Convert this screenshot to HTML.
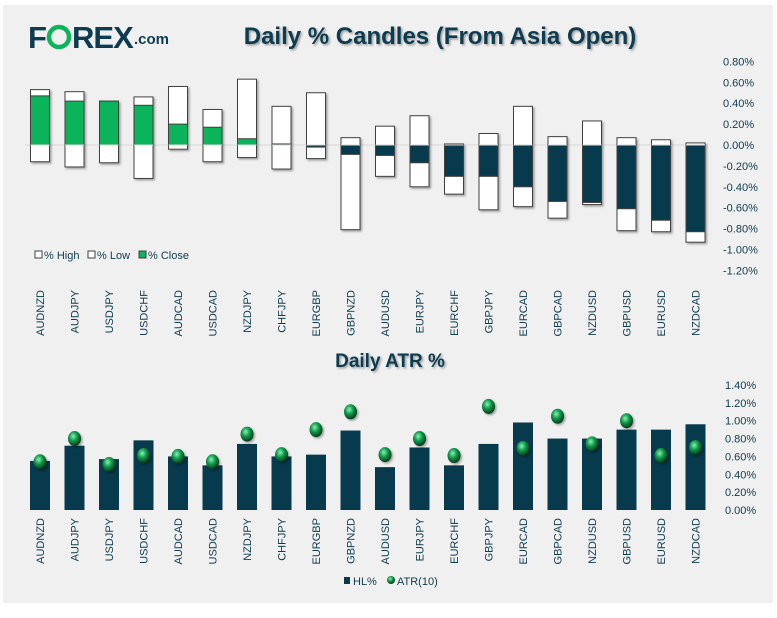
<!DOCTYPE html>
<html><head><meta charset="utf-8"><style>
body{margin:0;background:#fff;width:777px;height:613px;overflow:hidden;font-family:"Liberation Sans",sans-serif}
</style></head><body>
<svg width="777" height="613" xmlns="http://www.w3.org/2000/svg" id="svg" style="font-family:'Liberation Sans',sans-serif">
<defs>
<filter id="sh" x="-20%" y="-20%" width="150%" height="150%"><feDropShadow dx="1.5" dy="1.5" stdDeviation="1" flood-color="#000" flood-opacity="0.35"/></filter>
<radialGradient id="dotg" cx="40%" cy="35%" r="65%"><stop offset="0" stop-color="#8ff0b0"/><stop offset="0.45" stop-color="#12a050"/><stop offset="1" stop-color="#043818"/></radialGradient>
</defs>
<rect x="3" y="5" width="770" height="598" fill="#f0f0f0"/>
<g>
<text x="28" y="48" font-size="31" font-weight="bold" fill="#0d3b4f" letter-spacing="-1">F</text>
<circle cx="59" cy="37" r="10" fill="none" stroke="#0bb35a" stroke-width="4.5"/>
<text x="72" y="48" font-size="31" font-weight="bold" fill="#0d3b4f" letter-spacing="-1">REX</text>
<text x="134" y="44" font-size="15" font-weight="bold" fill="#0d3b4f">.com</text>
</g>
<text x="440" y="44" text-anchor="middle" font-size="24" font-weight="bold" fill="#0d3b4f" filter="url(#sh)">Daily % Candles (From Asia Open)</text>
<text x="390" y="367" text-anchor="middle" font-size="19" font-weight="bold" fill="#0d3b4f" filter="url(#sh)">Daily ATR %</text>
<g id="gtop"></g><g id="gbot"></g>
<g font-size="11" fill="#0d3b4f">
<rect x="35" y="251" width="7" height="7" fill="#fff" stroke="#404040"/><text x="44" y="259">% High</text>
<rect x="88" y="251" width="7" height="7" fill="#fff" stroke="#404040"/><text x="97" y="259">% Low</text>
<rect x="139" y="251" width="7" height="7" fill="#0bb35a" stroke="#404040"/><text x="148" y="259">% Close</text>
</g>
<g font-size="11" fill="#0d3b4f">
<rect x="344" y="577" width="6" height="7" fill="#073a4d"/><text x="353" y="585">HL%</text>
<circle cx="391" cy="580" r="4" fill="url(#dotg)"/><text x="397" y="585">ATR(10)</text>
</g>
</svg>
<script>
const categories=["AUDNZD","AUDJPY","USDJPY","USDCHF","AUDCAD","USDCAD","NZDJPY","CHFJPY","EURGBP","GBPNZD","AUDUSD","EURJPY","EURCHF","GBPJPY","EURCAD","GBPCAD","NZDUSD","GBPUSD","EURUSD","NZDCAD"];
const highVals=[0.53,0.51,0.42,0.46,0.56,0.34,0.63,0.37,0.50,0.07,0.18,0.28,0.01,0.11,0.37,0.08,0.23,0.07,0.05,0.02];
const lowVals=[-0.16,-0.21,-0.17,-0.32,-0.04,-0.16,-0.12,-0.23,-0.13,-0.81,-0.30,-0.40,-0.47,-0.62,-0.59,-0.70,-0.57,-0.82,-0.83,-0.93];
const closeVals=[0.47,0.42,0.42,0.38,0.20,0.17,0.06,0.01,-0.02,-0.09,-0.10,-0.17,-0.30,-0.30,-0.40,-0.54,-0.55,-0.61,-0.72,-0.83];
const topTicks=[0.8,0.6,0.4,0.2,0,-0.2,-0.4,-0.6,-0.8,-1.0,-1.2];
const hlVals=[0.55,0.72,0.57,0.78,0.60,0.50,0.74,0.60,0.62,0.89,0.48,0.70,0.50,0.74,0.98,0.80,0.80,0.90,0.90,0.96];
const atrVals=[0.54,0.80,0.51,0.61,0.60,0.54,0.85,0.62,0.90,1.10,0.62,0.80,0.61,1.16,0.69,1.05,0.74,1.00,0.61,0.70];
const botTicks=[1.4,1.2,1.0,0.8,0.6,0.4,0.2,0];
const NS="http://www.w3.org/2000/svg";
const xPos=i=>40+i*34.5;
const yTop=v=>145-v*104.5;
const yBot=v=>510-v*89.3;
function mk(tag,attrs,parent){const e=document.createElementNS(NS,tag);for(const k in attrs)e.setAttribute(k,attrs[k]);parent.appendChild(e);return e;}
const gTop=document.getElementById('gtop'),gBot=document.getElementById('gbot');
mk('line',{x1:25,x2:708,y1:yTop(0),y2:yTop(0),stroke:'#d8d8d8','stroke-width':1},gTop);
topTicks.forEach(t=>{const e=mk('text',{x:723,y:yTop(t)+4,'font-size':11,fill:'#0d3b4f'},gTop);


e.textContent=t.toFixed(2)+'%';});
categories.forEach((c,i)=>{const x=xPos(i),w=19;
const r=mk('rect',{x:x-w/2,y:yTop(highVals[i]),width:w,height:yTop(lowVals[i])-yTop(highVals[i]),fill:'#fff',stroke:'#404040','stroke-width':1,filter:'url(#sh)'},gTop);


const cv=closeVals[i];const y0=Math.min(yTop(0),yTop(cv)),h=Math.abs(yTop(cv)-yTop(0));
const cr=mk('rect',{x:x-w/2,y:y0,width:w,height:h,fill:cv>=0?'#0bb35a':'#073a4d',stroke:'#404040','stroke-width':1},gTop);


mk('line',{x1:x-w/2,x2:x+w/2,y1:yTop(0),y2:yTop(0),stroke:'#d8d8d8','stroke-width':1},gTop);
const t=mk('text',{x:0,y:0,'font-size':11,fill:'#0d3b4f','text-anchor':'end',transform:`translate(${x+4},290) rotate(-90)`},gTop);


t.textContent=c;
const b=mk('rect',{x:x-10,y:yBot(hlVals[i]),width:20,height:yBot(0)-yBot(hlVals[i]),fill:'#073a4d'},gBot);


const d=mk('ellipse',{cx:x,cy:yBot(atrVals[i]),rx:6.5,ry:7.5,fill:'url(#dotg)',filter:'url(#sh)'},gBot);


const t2=mk('text',{x:0,y:0,'font-size':11,fill:'#0d3b4f','text-anchor':'end',transform:`translate(${x+4},518) rotate(-90)`},gBot);


t2.textContent=c;});
botTicks.forEach(t=>{const e=mk('text',{x:725,y:yBot(t)+4,'font-size':11,fill:'#0d3b4f'},gBot);


e.textContent=t.toFixed(2)+'%';});
</script>
</body></html>
